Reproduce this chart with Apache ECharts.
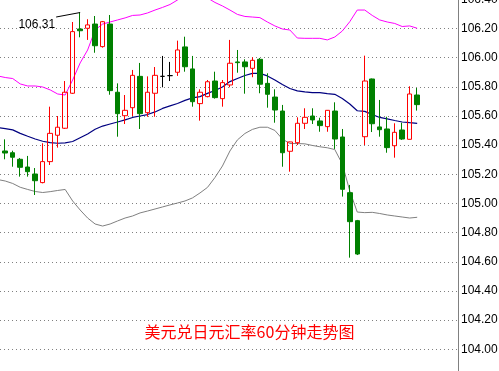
<!DOCTYPE html>
<html>
<head>
<meta charset="utf-8">
<script src="https://cdn.jsdelivr.net/npm/echarts@6/dist/echarts.min.js"></script>
<style>
html,body{margin:0;padding:0;background:#fff;}
#chart{width:499px;height:371px;}
</style>
</head>
<body>
<div id="chart"></div>
<script>
// Candles: [open, close, low, high], one per 60-minute bar
var candles = [
  [105.360,105.346,105.303,105.440],
  [105.348,105.317,105.252,105.362],
  [105.303,105.248,105.184,105.312],
  [105.250,105.218,105.184,105.326],
  [105.202,105.156,105.058,105.243],
  [105.143,105.287,105.138,105.413],
  [105.287,105.481,105.264,105.664],
  [105.468,105.523,105.383,105.600],
  [105.516,105.763,105.511,105.840],
  [105.756,106.179,105.751,106.245],
  [106.197,106.185,106.140,106.310],
  [106.202,106.225,106.122,106.264],
  [106.231,106.082,106.034,106.286],
  [106.076,106.247,106.069,106.252],
  [106.231,105.774,105.746,106.293],
  [105.763,105.616,105.458,105.824],
  [105.602,105.639,105.545,105.744],
  [105.657,105.879,105.600,105.916],
  [105.872,105.616,105.511,105.964],
  [105.623,105.763,105.595,105.872],
  [105.756,105.879,105.595,105.936],
  [105.872,105.872,105.797,106.012],
  [105.877,105.877,105.840,105.971],
  [105.900,106.053,105.875,106.117],
  [106.074,105.938,105.904,106.144],
  [105.923,105.698,105.664,106.012],
  [105.685,105.763,105.568,105.783],
  [105.733,105.835,105.728,105.847],
  [105.840,105.726,105.719,105.904],
  [105.719,105.829,105.664,105.847],
  [105.813,105.962,105.797,106.122],
  [105.971,105.966,105.897,106.053],
  [105.971,105.938,105.753,105.989],
  [105.927,105.982,105.866,106.003],
  [105.989,105.818,105.756,105.998],
  [105.824,105.749,105.657,105.893],
  [105.730,105.641,105.554,105.783],
  [105.634,105.348,105.252,105.676],
  [105.358,105.422,105.218,105.424],
  [105.417,105.550,105.401,105.591],
  [105.550,105.591,105.511,105.653],
  [105.600,105.573,105.545,105.653],
  [105.566,105.534,105.492,105.588],
  [105.527,105.639,105.492,105.641],
  [105.634,105.442,105.374,105.694],
  [105.456,105.097,105.047,105.511],
  [105.074,104.875,104.628,105.127],
  [104.882,104.653,104.646,104.887],
  [105.458,105.840,105.401,106.014],
  [105.854,105.547,105.490,105.857],
  [105.525,105.506,105.458,105.710],
  [105.511,105.383,105.348,105.595],
  [105.396,105.488,105.314,105.550],
  [105.504,105.442,105.436,105.554],
  [105.440,105.751,105.439,105.804],
  [105.744,105.678,105.637,105.792]
];
// Band lines: the first value belongs to the bar just left of the visible area (index -1)
var upperBand = [105.875,105.864,105.857,105.820,105.806,105.806,105.799,105.779,105.751,105.744,105.847,
  105.964,106.053,106.190,106.231,106.245,106.259,106.273,106.290,106.293,106.307,
  106.327,106.345,106.365,106.396,106.423,106.437,106.430,106.410,106.379,106.355,
  106.327,106.297,106.283,106.279,106.275,106.245,106.218,106.197,106.190,106.135,
  106.133,106.133,106.133,106.122,106.142,106.183,106.247,106.327,106.327,106.290,
  106.259,106.245,106.235,106.214,106.218,106.202];
var middleBand = [105.521,105.514,105.505,105.481,105.461,105.442,105.427,105.417,105.413,105.415,105.425,
  105.451,105.477,105.509,105.531,105.545,105.559,105.573,105.590,105.600,105.610,
  105.628,105.652,105.669,105.686,105.707,105.724,105.733,105.755,105.775,105.799,
  105.836,105.857,105.878,105.892,105.892,105.875,105.847,105.816,105.789,105.772,
  105.765,105.761,105.760,105.754,105.749,105.720,105.682,105.636,105.632,105.610,
  105.590,105.580,105.569,105.559,105.554,105.550];
var lowerBand = [105.164,105.154,105.137,105.111,105.096,105.082,105.075,105.081,105.089,105.096,105.017,
  104.955,104.900,104.859,104.845,104.859,104.880,104.900,104.914,104.935,104.948,
  104.962,104.976,104.990,105.003,105.017,105.038,105.072,105.110,105.178,105.257,
  105.360,105.436,105.480,105.508,105.523,105.523,105.501,105.442,105.411,105.411,
  105.409,105.398,105.389,105.382,105.370,105.271,105.086,104.941,104.937,104.939,
  104.931,104.921,104.914,104.907,104.900,104.905];
var xMin = -0.7, xMax = 60.45;          // bar-index range of the plot
var yMin = 103.8, yMax = 106.4, yStep = 0.2;
var titleText = '美元兑日元汇率60分钟走势图';

var candleData = candles.map(function (c, i) { return [i, c[0], c[1], c[2], c[3]]; });
function bandData(arr) { return arr.map(function (v, i) { return [i - 1, v]; }); }

var chart = echarts.init(document.getElementById('chart'), null, {renderer: 'canvas'});
chart.setOption({
  animation: false,
  backgroundColor: '#ffffff',
  title: {
    text: titleText,
    left: 'center',
    top: 319,
    textStyle: {color: '#ff0000', fontSize: 16, fontWeight: 'normal', fontFamily: 'Noto Sans CJK SC'}
  },
  grid: {left: 0, right: 41, top: -0.6, height: 378.95, containLabel: false, outerBoundsMode: 'none'},
  xAxis: {
    type: 'value', min: xMin, max: xMax, show: false,
    axisLine: {show: false}, axisTick: {show: false}, axisLabel: {show: false}, splitLine: {show: false}
  },
  yAxis: {
    type: 'value', position: 'right', min: yMin, max: yMax, interval: yStep,
    axisLine: {show: true, onZero: false, lineStyle: {color: '#808080', width: 1}},
    axisTick: {show: false},
    axisLabel: {
      margin: 3, color: '#000000', fontSize: 12, fontFamily: 'Liberation Sans',
      formatter: function (v) { return v.toFixed(2); }
    },
    splitLine: {show: true, lineStyle: {color: '#808080', width: 1, type: [1, 3]}}
  },
  series: [
    {type: 'line', data: bandData(upperBand), symbol: 'none', z: 2, lineStyle: {color: '#ff00ff', width: 1}},
    {type: 'line', data: bandData(middleBand), symbol: 'none', z: 2, lineStyle: {color: '#000080', width: 1.2}},
    {type: 'line', data: bandData(lowerBand), symbol: 'none', z: 2, lineStyle: {color: '#808080', width: 1}},
    {
      type: 'candlestick', data: candleData, barWidth: 5, z: 5,
      encode: {x: 0, y: [1, 2, 3, 4]},
      itemStyle: {
        color: 'rgba(255,255,255,0)', color0: '#008000',
        borderColor: '#ff0000', borderColor0: '#008000', borderColorDoji: '#000000', borderWidth: 1
      }
    }
  ]
});

// annotate the highest high
var maxIdx = -1, maxVal = -Infinity;
candles.forEach(function (c, i) { if (c[3] > maxVal) { maxVal = c[3]; maxIdx = i; } });
var p = chart.convertToPixel({seriesIndex: 3}, [maxIdx, maxVal]);
chart.setOption({
  graphic: [
    {type: 'polyline', shape: {points: [[p[0] - 24, p[1] + 4.5], [p[0], p[1]]]}, style: {stroke: '#000', lineWidth: 1, fill: null}, z: 10},
    {type: 'text', x: p[0] - 25, y: p[1] + 12.5, style: {text: maxVal.toFixed(2), fill: '#000', fontSize: 12, fontFamily: 'Liberation Sans', align: 'right', verticalAlign: 'middle'}, z: 10}
  ]
});
</script>
</body>
</html>
